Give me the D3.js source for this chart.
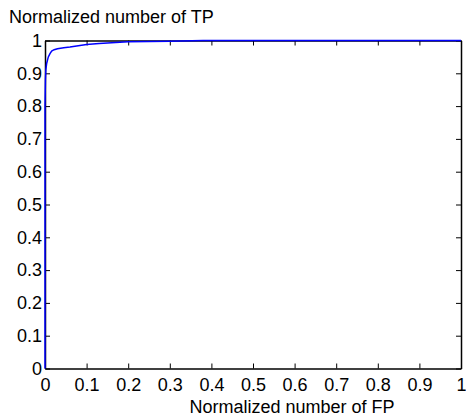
<!DOCTYPE html>
<html>
<head>
<meta charset="utf-8">
<script src="https://cdn.jsdelivr.net/npm/d3@7"></script>
<style>
  body { margin: 0; background: #fff; }
  svg text { font-family: "Liberation Sans", Arial, sans-serif; fill: #000; }
</style>
</head>
<body>
<div id="chart"></div>
<script>
// ROC-like curve, values
const fpRate = [0, 0, 0.001, 0.002, 0.004, 0.006, 0.008, 0.012, 0.016, 0.022, 0.03, 0.045, 0.06, 0.08, 0.1, 0.13, 0.17, 0.2, 0.25, 0.3, 0.38, 1];
const tpRate = [0, 0.8, 0.88, 0.91, 0.93, 0.94, 0.95, 0.96, 0.968, 0.972, 0.975, 0.978, 0.98, 0.984, 0.988, 0.991, 0.994, 0.996, 0.997, 0.998, 1, 1];
const tickValues = [0, 0.1, 0.2, 0.3, 0.4, 0.5, 0.6, 0.7, 0.8, 0.9, 1];

const W = 466, H = 417;
const margin = { top: 40.5, right: 5, bottom: 48.5, left: 45 };
const width = W - margin.left - margin.right,
    height = H - margin.top - margin.bottom;

const svg = d3.select("#chart").append("svg")
    .attr("width", W)
    .attr("height", H);

const g = svg.append("g")
    .attr("transform", `translate(${margin.left},${margin.top})`);

const x = d3.scaleLinear().domain([0, 1]).range([0, width]);
const y = d3.scaleLinear().domain([0, 1]).range([height, 0]);

const fmt = d => d === 0 || d === 1 ? String(d) : d.toFixed(1);

// axes, ticks pointing inwards
g.append("g")
    .attr("class", "x axis")
    .attr("transform", `translate(0,${height})`)
    .call(d3.axisBottom(x).tickValues(tickValues).tickFormat(fmt).tickSizeInner(-5).tickSizeOuter(0).tickPadding(10));

g.append("g")
    .attr("class", "x2 axis")
    .call(d3.axisTop(x).tickValues(tickValues).tickFormat("").tickSizeInner(-5).tickSizeOuter(0));

g.append("g")
    .attr("class", "y axis")
    .call(d3.axisLeft(y).tickValues(tickValues).tickFormat(fmt).tickSizeInner(-5).tickSizeOuter(0).tickPadding(3));

g.append("g")
    .attr("class", "y2 axis")
    .attr("transform", `translate(${width},0)`)
    .call(d3.axisRight(y).tickValues(tickValues).tickFormat("").tickSizeInner(-5).tickSizeOuter(0));

g.selectAll(".axis .domain").attr("stroke", "#000").attr("stroke-width", 1.5);
g.selectAll(".axis .tick line").attr("stroke", "#000").attr("stroke-width", 1);
g.selectAll(".axis text")
    .style("font-size", "18px")
    .style("font-family", "'Liberation Sans', Arial, sans-serif");

// the curve
const line = d3.line()
    .x((d, i) => x(fpRate[i]))
    .y((d, i) => y(tpRate[i]));

g.append("path")
    .datum(tpRate)
    .attr("fill", "none")
    .attr("stroke", "#0000ff")
    .attr("stroke-width", 1.5)
    .attr("d", line);

// titles
svg.append("text")
    .attr("x", 9)
    .attr("y", 23)
    .style("font-size", "18px")
    .text("Normalized number of TP");

svg.append("text")
    .attr("x", 292)
    .attr("y", 413)
    .attr("text-anchor", "middle")
    .style("font-size", "18px")
    .text("Normalized number of FP");
</script>
</body>
</html>
